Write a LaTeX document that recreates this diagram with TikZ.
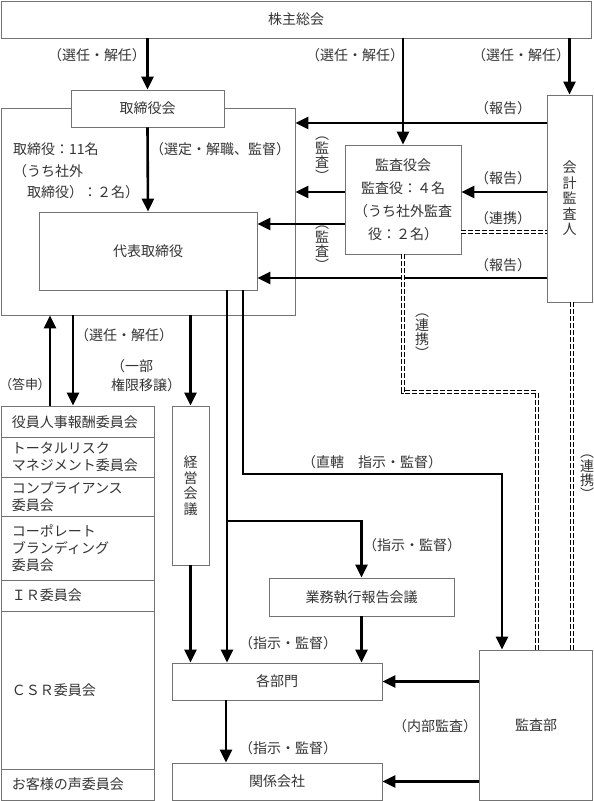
\documentclass[tikz,border=0pt]{standalone}
\usepackage{fontspec}
\setmainfont{Noto Sans CJK JP}
\newfontfamily\paltfont{Noto Sans CJK JP}[RawFeature=+palt]
\usetikzlibrary{arrows.meta}
\definecolor{boxgray}{gray}{0.45}
\definecolor{inkgray}{gray}{0.2}

\begin{document}
\begin{tikzpicture}[x=1pt, y=-1pt,
    font=\fontsize{14}{17}\selectfont, text=inkgray,
    box/.style={draw=boxgray, line width=0.8pt, fill=white, inner sep=0pt},
    cell/.style={box, minimum width=153pt, text width=131pt, inner xsep=11pt, align=left},
    vlabel/.style={align=center, inner sep=0pt, font=\fontsize{14}{14}\selectfont},
    arr/.style={line width=2.6pt, -{Triangle[width=12pt,length=13pt]}},
    link/.style={line width=1pt, double, double distance=2.5pt, dash pattern=on 5pt off 2pt}]
    \useasboundingbox (0,0) rectangle (594,801);

    % top rows
    \node[box, minimum width=590pt, minimum height=37pt] (kabu) at (296,19.5) {株主総会};
    \node[box, minimum width=294pt, minimum height=207pt, fill=none] (frame) at (148,211.5) {};
    \node[box, minimum width=153pt, minimum height=37pt] (torikai) at (147.5,108.5) {取締役会};
    \node[anchor=west, align=left, inner sep=0pt, font=\fontsize{14}{21.5}\selectfont] (torinin) at (13,171) {取締役：11名\\（うち社外\\　取締役）：２名）};
    \node[box, minimum width=218pt, minimum height=78pt] (daihyo) at (148,251) {代表取締役};
    \node[box, minimum width=116pt, minimum height=109pt, align=center, font=\fontsize{14}{23}\selectfont] (kansa) at (403,199.5) {監査役会\\監査役：４名\\（うち社外監査\\役：２名）};
    \node[box, minimum width=45pt, minimum height=207pt, align=center, font=\fontsize{14}{15.5}\selectfont] (kaikei) at (569.5,198.5) {会\\計\\監\\査\\人};

    % committees
    \node[cell, minimum height=31.5pt] (c1) at (77.5,421.75) {役員人事報酬委員会};
    \node[cell, minimum height=39.5pt] (c2) at (77.5,457.25) {トータルリスク\\マネジメント委員会};
    \node[cell, minimum height=39pt] (c3) at (77.5,496.5) {コンプライアンス\\委員会};
    \node[cell, minimum height=64pt] (c4) at (77.5,548) {コーポレート\\ブランディング\\委員会};
    \node[cell, minimum height=31pt] (c5) at (77.5,595.5) {ＩＲ委員会};
    \node[cell, minimum height=158pt] (c6) at (77.5,690) {ＣＳＲ委員会};
    \node[cell, minimum height=31pt] (c7) at (77.5,784.5) {お客様の声委員会};

    % lower boxes
    \node[box, minimum width=37pt, minimum height=159pt, align=center, font=\fontsize{14}{15.5}\selectfont] (keiei) at (190.5,485.5) {経\\営\\会\\議};
    \node[box, minimum width=185pt, minimum height=38pt] (gyomu) at (361.5,597) {業務執行報告会議};
    \node[box, minimum width=210pt, minimum height=37pt] (bumon) at (277,681.5) {各部門};
    \node[box, minimum width=210pt, minimum height=37pt] (kankei) at (277,781.5) {関係会社};
    \node[box, minimum width=113pt, minimum height=150pt] (kansabu) at (536,725) {監査部};

    \coordinate (jct) at (227,521);
    \coordinate (turn) at (502,474);

    % from the shareholders
    \draw[arr] (kabu.south -| torikai.north) -- (torikai.north);
    \draw[arr] (kabu.south -| kansa.north) -- (kansa.north);
    \draw[arr] (kabu.south -| kaikei.north) -- (kaikei.north);
    \node (sn1) at (97,55) {（選任・解任）};
    \node (sn2) at (355,55) {（選任・解任）};
    \node (sn3) at (521,55) {（選任・解任）};

    \draw[arr] (torikai.south) -- (daihyo.north);
    \node (sentei) at (220,149) {（選定・解職、監督）};

    % audit side
    \draw[arr] (kaikei.west |- 0,123) -- (frame.east |- 0,123);
    \draw[arr] (kaikei.west |- 0,192) -- (kansa.east |- 0,192);
    \draw[arr] (kansa.west |- 0,192) -- (frame.east |- 0,192);
    \draw[arr] (kansa.west |- 0,224) -- (daihyo.east |- 0,224);
    \draw[arr] (kaikei.west |- 0,278) -- (daihyo.east |- 0,278);
    \draw[link] (kansa.east |- 0,232) -- (kaikei.west |- 0,232);
    \draw[link] (kaikei.south -| 572,0) -- (kansabu.north -| 572,0);
    \draw[link] (kansa.south) |- (537,392) -- (kansabu.north -| 537,0);
    \node (hk1) at (503,108) {（報告）};
    \node (hk2) at (503,178) {（報告）};
    \node (rk1) at (503,218) {（連携）};
    \node (hk3) at (503,265) {（報告）};
    \node[vlabel] (ks1) at (322,159) {︵\\監\\査\\︶};
    \node[vlabel] (ks2) at (322,248) {︵\\監\\査\\︶};
    \node[vlabel] (rk2) at (422,336) {︵\\連\\携\\︶};
    \node[vlabel] (rk3) at (587,477) {︵\\連\\携\\︶};

    % below the board
    \draw[arr] (c1.north -| 50,0) -- (frame.south -| 50,0);
    \draw[arr] (frame.south -| 73,0) -- (c1.north -| 73,0);
    \draw[arr] (frame.south -| keiei.north) -- (keiei.north);
    \node[font=\paltfont\fontsize{13}{16}\selectfont, inner sep=0pt] (toshin) at (25,385) {（答申）};
    \node (sn4) at (124,335) {（選任・解任）};
    \node[anchor=west, align=left, inner sep=0pt, font=\fontsize{14}{19}\selectfont] (ijo) at (111,376) {（一部\\権限移譲）};

    \draw[arr] (daihyo.south -| jct) -- (bumon.north -| jct);
    \draw[arr] (jct) -| (gyomu.north);
    \draw[arr] (daihyo.south -| 243,0) |- (turn) -- (kansabu.north -| turn);
    \draw[arr] (keiei.south) -- (bumon.north -| keiei.south);
    \draw[arr] (gyomu.south) -- (bumon.north -| gyomu.south);
    \draw[arr] (bumon.south -| 226,0) -- (kankei.north -| 226,0);
    \draw[arr] (kansabu.west |- bumon.east) -- (bumon.east);
    \draw[arr] (kansabu.west |- kankei.east) -- (kankei.east);
    \node (chokkatsu) at (372,462) {（直轄　指示・監督）};
    \node (sk1) at (412,545) {（指示・監督）};
    \node (sk2) at (288,643) {（指示・監督）};
    \node (sk3) at (288,748) {（指示・監督）};
    \node (naibu) at (435,726) {（内部監査）};
\end{tikzpicture}
\end{document}
